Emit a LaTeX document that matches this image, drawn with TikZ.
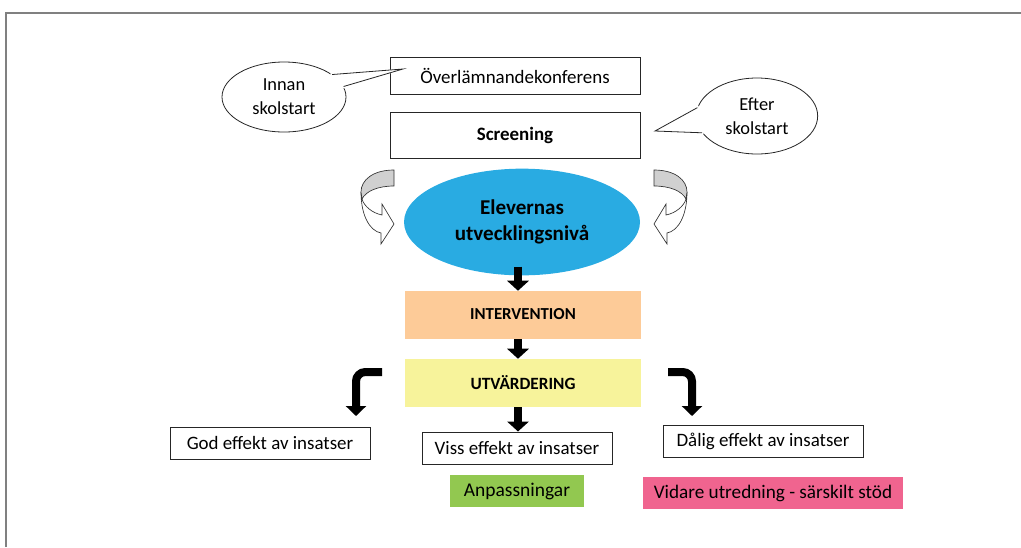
\documentclass[tikz,border=0pt]{standalone}
\usepackage{fontspec}
\setmainfont{Carlito}
\usetikzlibrary{arrows.meta,calc,shapes.geometric}
\definecolor{ellblue}{HTML}{29ABE2}
\definecolor{peach}{HTML}{FDCB98}
\definecolor{lemon}{HTML}{F7F39B}
\definecolor{leaf}{HTML}{92C850}
\definecolor{rose}{HTML}{F0648F}
\definecolor{arrgray}{HTML}{D0D0D0}
\definecolor{frame}{HTML}{808080}
\tikzset{
  whitebox/.style={draw=black!85, line width=0.75pt, fill=white, inner sep=0pt, align=center, font=\fontsize{14.2}{17}\selectfont},
  colbox/.style={draw=none, inner sep=0pt, align=center},
  callout/.style={ellipse, draw=black!85, line width=0.6pt, fill=white, inner sep=0pt, align=center, font=\fontsize{13.8}{18}\selectfont},
  blk/.style={line width=5.8pt, -{Triangle[width=16pt,length=7.5pt]}},
  bent/.style={line width=6pt, rounded corners=7pt, -{Triangle[width=15pt,length=7.5pt]}},
  curvarr/.pic={
    \draw[fill=white, draw=black!80, line width=0.5pt]
      (361,192) .. controls (361,216) and (370,231) .. (381,233) -- (381,244) -- (394,224) -- (382,204) -- (382,215) .. controls (372,213) and (364,206) .. (362,199) -- cycle;
    \draw[fill=arrgray, draw=black!80, line width=0.5pt]
      (394,170) .. controls (373,170) and (361,180) .. (361,192) -- (362,199) .. controls (366,191) and (378,186) .. (394,186) -- cycle;
  }
}
\begin{document}
\begin{tikzpicture}[x=0.75pt,y=-0.75pt]
\useasboundingbox (0,0) rectangle (1021,547);
% frame
\draw[frame, line width=1.2pt] (6,547) -- (6,13) -- (1021,13);

% top boxes
\node[whitebox, minimum width=187.5pt, minimum height=27.75pt] (konf) at (515,75.5) {Överlämnandekonferens};
\node[whitebox, minimum width=187.5pt, minimum height=34.5pt] (scr) at (515,135) {\textbf{Screening}};

% callouts
\node[callout, minimum width=93pt, minimum height=52.5pt] (innan) at (284,97) {Innan\\skolstart};
\coordinate (innantip) at (403,69);
\fill[white] (innan.27) -- (innantip) -- (innan.8) -- ($(innan.center)!0.85!(innan.18)$) -- cycle;
\draw[black!85, line width=0.6pt] (innan.25) -- (innantip) -- (innan.10);

\node[callout, minimum width=91pt, minimum height=57pt] (efter) at (757,116) {Efter\\skolstart};
\coordinate (eftertip) at (655,131);
\fill[white] (efter.170) -- (eftertip) -- (efter.199) -- ($(efter.center)!0.85!(efter.185)$) -- cycle;
\draw[black!85, line width=0.6pt] (efter.172) -- (eftertip) -- (efter.197);

% curved arrows
\pic at (0,0) {curvarr};
\pic[xscale=-1] at (1048,0) {curvarr};

% ellipse
\node[ellipse, fill=ellblue, draw=none, minimum width=177pt, minimum height=80pt, inner sep=0pt, align=center, font=\fontsize{15.8}{19.5}\bfseries] (ell) at (522,222) {Elevernas\\utvecklingsnivå};

% colored boxes
\node[colbox, fill=peach, minimum width=177pt, minimum height=36pt, font=\fontsize{12.6}{15}\bfseries] (interv) at (523,315) {\raisebox{2pt}{INTERVENTION}};
\node[colbox, fill=lemon, minimum width=177pt, minimum height=36pt, font=\fontsize{12.9}{15}\bfseries] (utv) at (523,383) {\raisebox{1pt}{UTVÄRDERING}};

% result boxes
\node[whitebox, minimum width=150pt, minimum height=24pt] (god) at (270,443) {God effekt av insatser};
\node[whitebox, minimum width=142.5pt, minimum height=24pt] (viss) at (517,448) {Viss effekt av insatser};
\node[whitebox, minimum width=150pt, minimum height=24pt] (dalig) at (763,441) {Dålig effekt av insatser};
\node[colbox, fill=leaf, minimum width=101pt, minimum height=24.5pt, font=\fontsize{14.6}{17}\selectfont] (anp) at (517,491) {Anpassningar};
\node[colbox, fill=rose, minimum width=195pt, minimum height=24pt, font=\fontsize{14.4}{17}\selectfont] (vid) at (773,493) {Vidare utredning - särskilt stöd};

% black arrows
\draw[blk] ($(ell.south)+(-4,-9)$) -- (interv.north -| 518,0);
\draw[blk] (interv.south -| 518,0) -- (utv.north -| 518,0);
\draw[blk] (utv.south -| 518,0) -- (viss.north -| 518,0);

\coordinate (lstart) at (382,372);
\coordinate (lend) at (356,416);
\coordinate (rstart) at (668,372);
\coordinate (rend) at (692,416);
\draw[bent] (lstart) -- (lend |- lstart) -- (lend);
\draw[bent] (rstart) -- (rend |- rstart) -- (rend);
\end{tikzpicture}
\end{document}
